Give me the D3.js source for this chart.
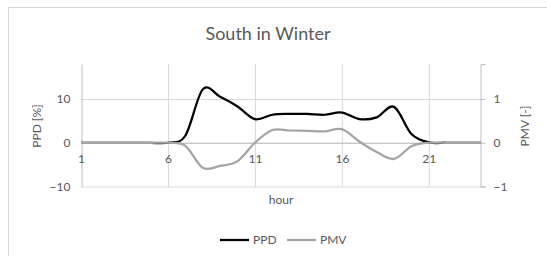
<!DOCTYPE html>
<html><head><meta charset="utf-8">
<script src="https://cdn.jsdelivr.net/npm/d3@7"></script>
<style>body{margin:0;background:#fff;} svg{display:block;font-family:Lato,"Open Sans",sans-serif;}</style>
</head><body>
<svg id="c" width="547" height="256"></svg>
<script>
const hours = [1,2,3,4,5,6,7,8,9,10,11,12,13,14,15,16,17,18,19,20,21,22,23,24];
const ppd = [0,0,0,0,0,0,1.6,12.2,10.5,8.3,5.4,6.4,6.6,6.6,6.4,6.9,5.4,5.8,8.2,2.0,0.1,0,0,0];
const pmv = [0,0,0,0,0,0,-0.07,-0.57,-0.53,-0.42,0,0.29,0.28,0.27,0.26,0.31,0.03,-0.21,-0.37,-0.08,0,0,0,0];
const xTicks = [1,6,11,16,21];
const ppdTicks = [-10,0,10];
const pmvTicks = [-1,0,1];
const title = "South in Winter";

const svg = d3.select("#c");
const txt = "#595959", grid = "#d9d9d9", axc = "#bfbfbf";
svg.append("rect").attr("x",8.5).attr("y",7.5).attr("width",600).attr("height",300)
  .attr("fill","#fff").attr("stroke","#d9d9d9");

const x = d3.scaleLinear().domain([1,24]).range([81,481]);
const yL = d3.scaleLinear().domain([-10,18]).range([186.5,64]);
const yR = d3.scaleLinear().domain([-1,1.8]).range([186.5,64]);

const gH = svg.append("g").call(d3.axisLeft(yL).tickValues(ppdTicks).tickSize(-400).tickFormat(""))
  .attr("transform","translate(81,0)");
gH.select(".domain").remove();
gH.selectAll("line").attr("stroke",grid);
const gV = svg.append("g").call(d3.axisBottom(x).tickValues(xTicks.slice(1)).tickSize(-122.5).tickFormat(""))
  .attr("transform","translate(0,186.5)");
gV.select(".domain").remove();
gV.selectAll("line").attr("stroke",grid);

const aL = svg.append("g").attr("transform","translate(81.5,0)")
  .call(d3.axisLeft(yL).tickValues(ppdTicks).tickSize(0).tickPadding(11));
aL.select(".domain").attr("stroke",axc);
aL.selectAll("text").attr("fill",txt).style("font-size","12px").style("font-family","Lato,'Open Sans',sans-serif");

const aR = svg.append("g").attr("transform","translate(480.5,0)")
  .call(d3.axisRight(yR).tickValues(pmvTicks).tickSize(5).tickPadding(8).tickFormat(d3.format("d")));
aR.select(".domain").attr("stroke",axc);
aR.selectAll("line").attr("stroke",axc);
aR.selectAll("text").attr("fill",txt).style("font-size","12px").style("font-family","Lato,'Open Sans',sans-serif");

const aX = svg.append("g").attr("transform",`translate(0,${yL(0)})`)
  .call(d3.axisBottom(x).tickValues(xTicks).tickSize(0).tickPadding(12));
aX.select(".domain").attr("stroke",axc);
aX.selectAll("text").attr("fill",txt).style("font-size","12px").style("font-family","Lato,'Open Sans',sans-serif");

const curve = d3.curveCardinal.tension(0);
svg.append("path").datum(ppd).attr("fill","none").attr("stroke","#000").attr("stroke-width",2.25)
  .attr("d", d3.line().x((d,i)=>x(hours[i])).y(d=>yL(d)).curve(curve));
svg.append("path").datum(pmv).attr("fill","none").attr("stroke","#a5a5a5").attr("stroke-width",2.25)
  .attr("d", d3.line().x((d,i)=>x(hours[i])).y(d=>yR(d)).curve(curve));

svg.append("text").attr("x",268).attr("y",40).attr("text-anchor","middle").attr("fill",txt)
  .style("font-size","18px").text(title);
svg.append("text").attr("x",281).attr("y",204).attr("text-anchor","middle").attr("fill",txt)
  .style("font-size","12px").text("hour");
svg.append("text").attr("transform","translate(41,126) rotate(-90)").attr("text-anchor","middle").attr("fill",txt)
  .style("font-size","12px").text("PPD [%]");
svg.append("text").attr("transform","translate(529,126) rotate(-90)").attr("text-anchor","middle").attr("fill",txt)
  .style("font-size","12px").text("PMV [-]");

const leg = [{n:"PPD",c:"#000",x:220},{n:"PMV",c:"#a5a5a5",x:287}];
leg.forEach(l=>{
  svg.append("line").attr("x1",l.x).attr("x2",l.x+29).attr("y1",240).attr("y2",240)
    .attr("stroke",l.c).attr("stroke-width",2.25);
  svg.append("text").attr("x",l.x+33).attr("y",244).attr("fill",txt).style("font-size","12px").text(l.n);
});
</script>
</body></html>
